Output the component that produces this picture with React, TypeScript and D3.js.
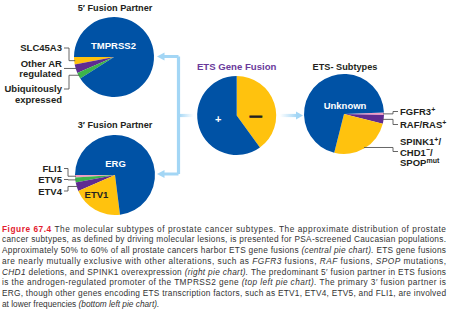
import React from 'react';
import * as d3 from 'd3';

// slice values (percent)
const fivePrimeNames = ['SLC45A3', 'Other AR regulated', 'Ubiquitously expressed', 'TMPRSS2'];
const fivePrimeValues = [3, 3.5, 2.5, 91];
const threePrimeNames = ['FLI1', 'ETV5', 'ETV4', 'ETV1', 'ERG'];
const threePrimeValues = [1, 2, 3.5, 20.5, 73];
const fusionNames = ['—', '+'];
const fusionValues = [40, 60];
const subtypeNames = ['FGFR3+', 'RAF/RAS+', 'SPINK1+/CHD1−/SPOPmut', 'Unknown'];
const subtypeValues = [1, 3.5, 25, 70.5];

const BLUE = '#0052a5';
const YELLOW = '#ffc20e';
const PURPLE = '#5f2b91';
const GREEN = '#3db54a';
const PINK = '#f29bc4';
const ARROW = '#a3d6f5';
const INK = '#231f20';
const FONT = '"Liberation Sans", Arial, sans-serif';

const fivePrimeColors = [YELLOW, PURPLE, GREEN, BLUE];
const threePrimeColors = [PINK, GREEN, PURPLE, YELLOW, BLUE];
const fusionColors = [YELLOW, BLUE];
const subtypeColors = [PINK, PURPLE, YELLOW, BLUE];

const captionLines = [
  [['b', 'Figure 67.4'], ['', ' The molecular subtypes of prostate cancer subtypes. The approximate distribution of prostate']],
  [['', 'cancer subtypes, as defined by driving molecular lesions, is presented for PSA-screened Caucasian populations.']],
  [['', 'Approximately 50% to 60% of all prostate cancers harbor ETS gene fusions '], ['i', '(central pie chart).'], ['', ' ETS gene fusions']],
  [['', 'are nearly mutually exclusive with other alterations, such as '], ['i', 'FGFR3'], ['', ' fusions, '], ['i', 'RAF'], ['', ' fusions, '], ['i', 'SPOP'], ['', ' mutations,']],
  [['i', 'CHD1'], ['', ' deletions, and SPINK1 overexpression '], ['i', '(right pie chart).'], ['', ' The predominant 5′ fusion partner in ETS fusions']],
  [['', 'is the androgen-regulated promoter of the TMPRSS2 gene '], ['i', '(top left pie chart).'], ['', ' The primary 3′ fusion partner is']],
  [['', 'ERG, though other genes encoding ETS transcription factors, such as ETV1, ETV4, ETV5, and FLI1, are involved']],
  [['', 'at lower frequencies '], ['i', '(bottom left pie chart).']],
];

const deg = (d: number) => (d * Math.PI) / 180;

function slices(values: number[], start: number, end: number) {
  return d3.pie<number>().sort(null).startAngle(start).endAngle(end)(values);
}

// point on the rim at the middle of a slice
function rim(a: d3.PieArcDatum<number>, cx: number, cy: number, r: number) {
  const m = (a.startAngle + a.endAngle) / 2;
  return [cx + r * Math.sin(m), cy - r * Math.cos(m)];
}

function Pie(props: any) {
  const { cx, cy, r, arcs, colors } = props;
  const arc = d3.arc<d3.PieArcDatum<number>>().innerRadius(0).outerRadius(r);
  return (
    <g transform={`translate(${cx},${cy})`}>
      {arcs.map((a: any, i: number) => (
        <path key={i} d={arc(a) || ''} fill={colors[i]} />
      ))}
    </g>
  );
}

function Leader(props: any) {
  const { from, elbow, to } = props;
  const line = d3.line();
  return (
    <path
      d={line([from, [elbow, from[1]], [elbow, to[1]], to]) || ''}
      fill="none"
      stroke="#555"
      strokeWidth={0.9}
    />
  );
}

export default function App() {
  // top left: 5' partners
  const p5 = { cx: 114, cy: 57, r: 40 };
  const a5 = slices(fivePrimeValues, deg(270), deg(-90));
  // bottom left: 3' partners
  const p3 = { cx: 115, cy: 175, r: 40 };
  const a3 = slices(threePrimeValues, deg(270), deg(-90));
  // centre: ETS fusion
  const pc = { cx: 236.7, cy: 115.5, r: 39.5 };
  const ac = slices(fusionValues, 0, 2 * Math.PI);
  // right: ETS- subtypes
  const pr = { cx: 344, cy: 114, r: 40 };
  const ar = slices(subtypeValues, deg(88), deg(448));

  const title = { fontFamily: FONT, fontWeight: 700, fontSize: 9.2, fill: INK, textAnchor: 'middle' as const };
  const lab = { fontFamily: FONT, fontWeight: 700, fontSize: 9.5, fill: INK };
  const inner = { fontFamily: FONT, fontWeight: 700, fontSize: 9.5, textAnchor: 'middle' as const };

  const r5 = a5.map((a) => rim(a, p5.cx, p5.cy, p5.r - 1));
  const r3 = a3.map((a) => rim(a, p3.cx, p3.cy, p3.r - 1));
  const rr = ar.map((a) => rim(a, pr.cx, pr.cy, pr.r - 1));

  return (
    <svg width={450} height={311} style={{ position: 'absolute', left: 0, top: 0, background: '#fff' }}>
      <defs>
        <linearGradient id="fadeR" x1="0" x2="1" y1="0" y2="0">
          <stop offset="0" stopColor={ARROW} />
          <stop offset="1" stopColor={ARROW} stopOpacity={0} />
        </linearGradient>
        <linearGradient id="fadeL" x1="0" x2="1" y1="0" y2="0">
          <stop offset="0" stopColor={ARROW} stopOpacity={0} />
          <stop offset="1" stopColor={ARROW} />
        </linearGradient>
      </defs>

      {/* arrows */}
      <path d="M178.5,56.5 V174 M178.5,56.5 H163 M178.5,174 H163" fill="none" stroke={ARROW} strokeWidth={3.2} />
      <rect x={178.5} y={113.9} width={15} height={3.2} fill="url(#fadeR)" />
      <path d="M157,56.5 L164.5,52.5 L164.5,60.5 Z" fill={ARROW} />
      <path d="M157,174 L164.5,170 L164.5,178 Z" fill={ARROW} />
      <rect x={280} y={113.9} width={17} height={3.2} fill="url(#fadeL)" />
      <path d="M303,115.5 L296,111.5 L296,119.5 Z" fill={ARROW} />

      {/* 5' fusion partner */}
      <text x={115} y={10.5} {...title}>5′ Fusion Partner</text>
      <Pie {...p5} arcs={a5} colors={fivePrimeColors} />
      <text x={113.5} y={49} {...inner} fill="#fff">{fivePrimeNames[3]}</text>
      <text x={62} y={51} {...lab} textAnchor="end">{fivePrimeNames[0]}</text>
      <text x={62} y={66.5} {...lab} textAnchor="end">Other AR</text>
      <text x={62} y={77} {...lab} textAnchor="end">regulated</text>
      <text x={62} y={92.3} {...lab} textAnchor="end">Ubiquitously</text>
      <text x={62} y={103} {...lab} textAnchor="end">expressed</text>
      <Leader from={[64, 48]} elbow={69} to={r5[0]} />
      <Leader from={[64, r5[1][1]]} elbow={69} to={r5[1]} />
      <Leader from={[64, 89]} elbow={69} to={r5[2]} />

      {/* 3' fusion partner */}
      <text x={115} y={128} {...title}>3′ Fusion Partner</text>
      <Pie {...p3} arcs={a3} colors={threePrimeColors} />
      <text x={115.5} y={167} {...inner} fill="#fff">{threePrimeNames[4]}</text>
      <text x={96.5} y={198} {...inner} fill={INK}>{threePrimeNames[3]}</text>
      <text x={62} y={171.5} {...lab} textAnchor="end">{threePrimeNames[0]}</text>
      <text x={62} y={182.5} {...lab} textAnchor="end">{threePrimeNames[1]}</text>
      <text x={62} y={194.5} {...lab} textAnchor="end">{threePrimeNames[2]}</text>
      <Leader from={[64, 168.5]} elbow={68} to={r3[0]} />
      <Leader from={[64, 179.5]} elbow={68} to={r3[1]} />
      <Leader from={[64, 191]} elbow={68} to={r3[2]} />

      {/* ETS gene fusion */}
      <text x={pc.cx} y={70} {...title} fontSize={9.6} fill="#6a3a9b">ETS Gene Fusion</text>
      <Pie {...pc} arcs={ac} colors={fusionColors} />
      <text x={pc.cx - 18.4} y={pc.cy + 7} {...inner} fontSize={11} fill="#fff">{fusionNames[1]}</text>
      <text x={pc.cx + 19} y={pc.cy + 4.3} {...inner} fontSize={12} fill={INK} stroke={INK} strokeWidth={0.9}>{fusionNames[0]}</text>

      {/* ETS- subtypes */}
      <text x={345} y={69.5} {...title}>ETS- Subtypes</text>
      <Pie {...pr} arcs={ar} colors={subtypeColors} />
      <text x={345} y={109} {...inner} fill="#fff">{subtypeNames[3]}</text>
      <text x={400} y={115} {...lab}>FGFR3<tspan dy={-3.5} fontSize={7}>+</tspan></text>
      <text x={400} y={128} {...lab}>RAF/RAS<tspan dy={-3.5} fontSize={7}>+</tspan></text>
      <text x={400} y={145} {...lab}>SPINK1<tspan dy={-3.5} fontSize={7}>+</tspan><tspan dy={3.5}>/</tspan></text>
      <text x={400} y={155.5} {...lab}>CHD1<tspan dy={-3.5} fontSize={7}>−</tspan><tspan dy={3.5}>/</tspan></text>
      <text x={400} y={166} {...lab}>SPOP<tspan dy={-3.5} fontSize={7}>mut</tspan></text>
      <Leader from={[398, 111.5]} elbow={393} to={rr[0]} />
      <Leader from={[398, 124.5]} elbow={393} to={rr[1]} />
      <Leader from={[398, 151.5]} elbow={393} to={rr[2]} />

      {/* caption */}
      {captionLines.map((segs, i) => (
        <text
          key={i}
          x={2}
          y={231.7 + i * 10.7}
          fontFamily={FONT}
          fontSize={8.3}
          fill="#333"
          textLength={i < captionLines.length - 1 ? 444 : undefined}
          lengthAdjust="spacing"
        >
          {segs.map(([k, s], j) => (
            <tspan
              key={j}
              fontStyle={k === 'i' ? 'italic' : undefined}
              fontWeight={k === 'b' ? 700 : undefined}
              fill={k === 'b' ? '#e31b2f' : undefined}
            >
              {s}
            </tspan>
          ))}
        </text>
      ))}
    </svg>
  );
}
